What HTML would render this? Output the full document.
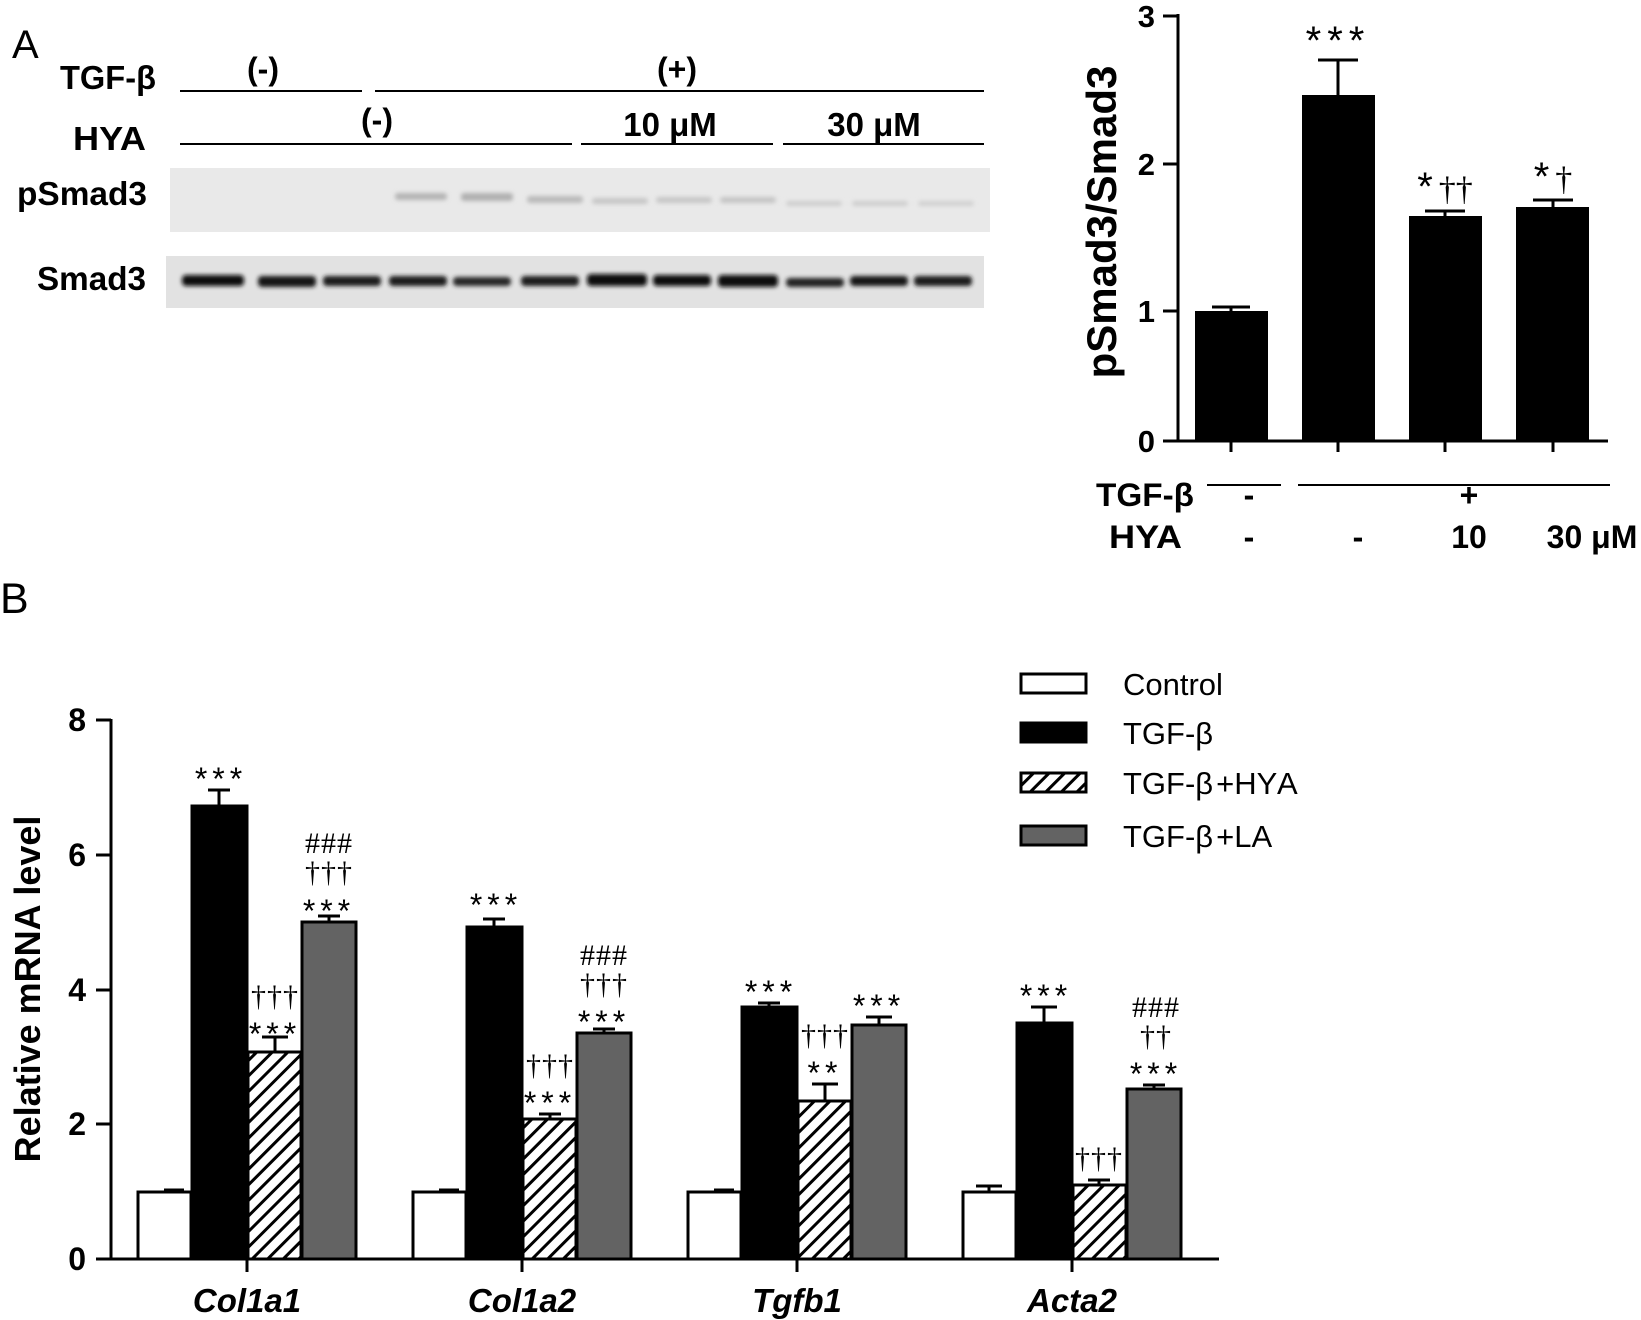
<!DOCTYPE html>
<html><head><meta charset="utf-8"><style>
html,body{margin:0;padding:0;background:#fff;}
svg{display:block;}
.b{font-family:"Liberation Sans",Arial,sans-serif;font-weight:bold;}
.r{font-family:"Liberation Sans",Arial,sans-serif;}
.s{font-family:"Liberation Serif",serif;}
</style></head><body>
<svg width="1641" height="1320" viewBox="0 0 1641 1320" xmlns="http://www.w3.org/2000/svg">
<defs>
<pattern id="h" patternUnits="userSpaceOnUse" width="11" height="11" patternTransform="rotate(45)">
<rect width="11" height="11" fill="#fff"/><rect x="0" y="0" width="3" height="11" fill="#000"/>
</pattern>
<filter id="bl" x="-20%" y="-100%" width="140%" height="300%"><feGaussianBlur stdDeviation="2.2"/></filter>
</defs>

<!-- Panel A -->
<text x="12" y="58" class="r" font-size="40">A</text>
<text x="60" y="89" class="b" font-size="33" textLength="96" lengthAdjust="spacingAndGlyphs">TGF-β</text>
<text x="263" y="80" class="b" font-size="32" text-anchor="middle">(-)</text>
<text x="677" y="80" class="b" font-size="32" text-anchor="middle">(+)</text>
<line x1="180" y1="91" x2="362" y2="91" stroke="#000" stroke-width="2"/>
<line x1="375" y1="91" x2="984" y2="91" stroke="#000" stroke-width="2"/>
<text x="73" y="150" class="b" font-size="33" textLength="73" lengthAdjust="spacingAndGlyphs">HYA</text>
<text x="377" y="131" class="b" font-size="32" text-anchor="middle">(-)</text>
<text x="670" y="136" class="b" font-size="33" text-anchor="middle">10 μM</text>
<text x="874" y="136" class="b" font-size="33" text-anchor="middle">30 μM</text>
<line x1="180" y1="144" x2="572" y2="144" stroke="#000" stroke-width="2"/>
<line x1="581" y1="144" x2="773" y2="144" stroke="#000" stroke-width="2"/>
<line x1="783" y1="144" x2="984" y2="144" stroke="#000" stroke-width="2"/>
<text x="17" y="205" class="b" font-size="33" textLength="130" lengthAdjust="spacingAndGlyphs">pSmad3</text>
<text x="37" y="290" class="b" font-size="33" textLength="109" lengthAdjust="spacingAndGlyphs">Smad3</text>
<rect x="170" y="168" width="820" height="64" fill="#e9e9e9"/>
<rect x="166" y="256" width="818" height="52" fill="#e2e2e2"/>
<g filter="url(#bl)">
<rect x="395" y="193" width="52" height="7" rx="3" fill="#b4b4b4"/>
<rect x="461" y="193" width="52" height="8" rx="3" fill="#b0b0b0"/>
<rect x="527" y="196" width="56" height="7" rx="3" fill="#bababa"/>
<rect x="592" y="198" width="56" height="6" rx="3" fill="#c6c6c6"/>
<rect x="656" y="197" width="56" height="6" rx="3" fill="#c6c6c6"/>
<rect x="720" y="197" width="56" height="6" rx="3" fill="#c4c4c4"/>
<rect x="786" y="201" width="56" height="5" rx="3" fill="#cdcdcd"/>
<rect x="852" y="201" width="56" height="5" rx="3" fill="#cdcdcd"/>
<rect x="918" y="201" width="56" height="5" rx="3" fill="#d0d0d0"/>
<rect x="182" y="275" width="62" height="11" rx="4" fill="#111"/>
<rect x="258" y="276" width="58" height="11" rx="4" fill="#151515"/>
<rect x="323" y="276" width="58" height="10" rx="4" fill="#1a1a1a"/>
<rect x="389" y="276" width="58" height="10" rx="4" fill="#1a1a1a"/>
<rect x="453" y="277" width="58" height="9" rx="4" fill="#252525"/>
<rect x="521" y="276" width="58" height="10" rx="4" fill="#1a1a1a"/>
<rect x="587" y="274" width="60" height="12" rx="4" fill="#0a0a0a"/>
<rect x="653" y="275" width="58" height="11" rx="4" fill="#111"/>
<rect x="718" y="275" width="60" height="12" rx="4" fill="#0d0d0d"/>
<rect x="786" y="278" width="58" height="9" rx="4" fill="#222"/>
<rect x="850" y="276" width="58" height="10" rx="4" fill="#151515"/>
<rect x="914" y="276" width="58" height="10" rx="4" fill="#1a1a1a"/>
</g>

<!-- Right chart -->
<g stroke="#000" stroke-width="3" fill="none">
<line x1="1178" y1="14" x2="1178" y2="442"/>
<line x1="1178" y1="441" x2="1608" y2="441"/>
<line x1="1163" y1="16" x2="1178" y2="16"/>
<line x1="1163" y1="164" x2="1178" y2="164"/>
<line x1="1163" y1="311" x2="1178" y2="311"/>
<line x1="1163" y1="441" x2="1178" y2="441"/>
<line x1="1231" y1="441" x2="1231" y2="452"/>
<line x1="1338" y1="441" x2="1338" y2="452"/>
<line x1="1445" y1="441" x2="1445" y2="452"/>
<line x1="1553" y1="441" x2="1553" y2="452"/>
<line x1="1231" y1="307" x2="1231" y2="311"/><line x1="1212" y1="307" x2="1250" y2="307"/>
<line x1="1338" y1="60" x2="1338" y2="95"/><line x1="1318" y1="60" x2="1358" y2="60"/>
<line x1="1445" y1="211" x2="1445" y2="216"/><line x1="1425" y1="211" x2="1465" y2="211"/>
<line x1="1553" y1="200" x2="1553" y2="207"/><line x1="1533" y1="200" x2="1573" y2="200"/>
</g>
<g fill="#000">
<rect x="1195" y="311" width="73" height="130"/>
<rect x="1302" y="95" width="73" height="346"/>
<rect x="1409" y="216" width="73" height="225"/>
<rect x="1516" y="207" width="73" height="234"/>
</g>
<g class="b" font-size="31" text-anchor="end">
<text x="1155" y="27">3</text><text x="1155" y="175">2</text><text x="1155" y="322">1</text><text x="1155" y="452">0</text>
</g>
<text transform="translate(1116,222) rotate(-90)" class="b" font-size="42" text-anchor="middle">pSmad3/Smad3</text>
<text x="1338" y="54" class="r" font-size="40" text-anchor="middle" letter-spacing="6">***</text>
<text x="1445" y="200" class="r" font-size="40" text-anchor="middle">*<tspan class="s" font-size="34" dx="6">††</tspan></text>
<text x="1553" y="190" class="r" font-size="40" text-anchor="middle">*<tspan class="s" font-size="34" dx="6">†</tspan></text>
<line x1="1207" y1="485" x2="1281" y2="485" stroke="#000" stroke-width="2"/>
<line x1="1298" y1="485" x2="1610" y2="485" stroke="#000" stroke-width="2"/>
<g class="b" font-size="32">
<text x="1096" y="506" textLength="98" lengthAdjust="spacingAndGlyphs">TGF-β</text>
<text x="1109" y="548" textLength="73" lengthAdjust="spacingAndGlyphs">HYA</text>
<text x="1249" y="506" text-anchor="middle">-</text>
<text x="1469" y="506" text-anchor="middle">+</text>
<text x="1249" y="548" text-anchor="middle">-</text>
<text x="1358" y="548" text-anchor="middle">-</text>
<text x="1469" y="548" text-anchor="middle">10</text>
<text x="1592" y="548" text-anchor="middle">30 μM</text>
</g>

<!-- Panel B -->
<text x="0" y="613" class="r" font-size="43">B</text>
<g stroke="#000" stroke-width="3" fill="none">
<line x1="111" y1="719" x2="111" y2="1260"/>
<line x1="111" y1="1259" x2="1219" y2="1259"/>
<line x1="96" y1="720" x2="111" y2="720"/>
<line x1="96" y1="855" x2="111" y2="855"/>
<line x1="96" y1="990" x2="111" y2="990"/>
<line x1="96" y1="1124" x2="111" y2="1124"/>
<line x1="96" y1="1259" x2="111" y2="1259"/>
<line x1="247" y1="1259" x2="247" y2="1272"/>
<line x1="522" y1="1259" x2="522" y2="1272"/>
<line x1="797" y1="1259" x2="797" y2="1272"/>
<line x1="1072" y1="1259" x2="1072" y2="1272"/>
</g>
<g class="b" font-size="32" text-anchor="end">
<text x="86" y="731">8</text><text x="86" y="866">6</text><text x="86" y="1001">4</text><text x="86" y="1135">2</text><text x="86" y="1270">0</text>
</g>
<text transform="translate(40,989) rotate(-90)" class="b" font-size="36" text-anchor="middle">Relative mRNA level</text>
<g class="b" font-size="33" font-style="italic" text-anchor="middle">
<text x="247" y="1312">Col1a1</text><text x="522" y="1312">Col1a2</text><text x="797" y="1312">Tgfb1</text><text x="1072" y="1312">Acta2</text>
</g>

<g stroke="#000" stroke-width="3">
<rect x="138" y="1192" width="53" height="67" fill="#fff"/>
<rect x="192" y="806" width="55" height="453" fill="#000"/>
<rect x="248" y="1052" width="53" height="207" fill="url(#h)"/>
<rect x="302" y="922" width="54" height="337" fill="#636363"/>
<rect x="413" y="1192" width="53" height="67" fill="#fff"/>
<rect x="467" y="927" width="55" height="332" fill="#000"/>
<rect x="523" y="1119" width="53" height="140" fill="url(#h)"/>
<rect x="577" y="1033" width="54" height="226" fill="#636363"/>
<rect x="688" y="1192" width="53" height="67" fill="#fff"/>
<rect x="742" y="1007" width="55" height="252" fill="#000"/>
<rect x="798" y="1101" width="53" height="158" fill="url(#h)"/>
<rect x="852" y="1025" width="54" height="234" fill="#636363"/>
<rect x="963" y="1192" width="53" height="67" fill="#fff"/>
<rect x="1017" y="1023" width="55" height="236" fill="#000"/>
<rect x="1073" y="1185" width="53" height="74" fill="url(#h)"/>
<rect x="1127" y="1089" width="54" height="170" fill="#636363"/>
</g>
<g stroke="#000" stroke-width="3" fill="none">
<path d="M164 1190h20M219 790v16M208 790h22M275 1037v15M262 1037h26M329 916v6M318 916h22"/>
<path d="M439 1190h20M494 919v8M483 919h22M550 1114v5M539 1114h22M604 1029v4M593 1029h22"/>
<path d="M714 1190h20M769 1003v4M758 1003h22M825 1084v17M812 1084h26M879 1017v8M866 1017h26"/>
<path d="M989 1186v6M976 1186h26M1044 1007v16M1031 1007h26M1099 1180v5M1088 1180h22M1154 1085v4M1143 1085h22"/>
</g>
<g class="r" font-size="32" text-anchor="middle" letter-spacing="5">
<text x="221" y="790">***</text>
<text x="275" y="1045">***</text>
<text x="329" y="922">***</text>
<text x="496" y="916">***</text>
<text x="550" y="1114">***</text>
<text x="604" y="1033">***</text>
<text x="771" y="1003">***</text>
<text x="825" y="1084">**</text>
<text x="879" y="1017">***</text>
<text x="1046" y="1007">***</text>
<text x="1156" y="1085">***</text>
</g>
<g class="s" font-size="30" text-anchor="middle" letter-spacing="1">
<text x="275" y="1006">†††</text>
<text x="329" y="882">†††</text>
<text x="329" y="853">###</text>
<text x="550" y="1075">†††</text>
<text x="604" y="994">†††</text>
<text x="604" y="965">###</text>
<text x="825" y="1045">†††</text>
<text x="1099" y="1168">†††</text>
<text x="1156" y="1046">††</text>
<text x="1156" y="1017">###</text>
</g>

<g stroke="#000" stroke-width="3">
<rect x="1021" y="674" width="65" height="19" fill="#fff"/>
<rect x="1021" y="723" width="65" height="19" fill="#000"/>
<rect x="1021" y="773" width="65" height="19" fill="url(#h)"/>
<rect x="1021" y="826" width="65" height="19" fill="#636363"/>
</g>
<g class="r" font-size="31">
<text x="1123" y="695">Control</text>
<text x="1123" y="744">TGF-β</text>
<text x="1123" y="794">TGF-β<tspan dx="3">+HY</tspan><tspan dx="2">A</tspan></text>
<text x="1123" y="847">TGF-β<tspan dx="3">+LA</tspan></text>
</g>
</svg>
</body></html>
